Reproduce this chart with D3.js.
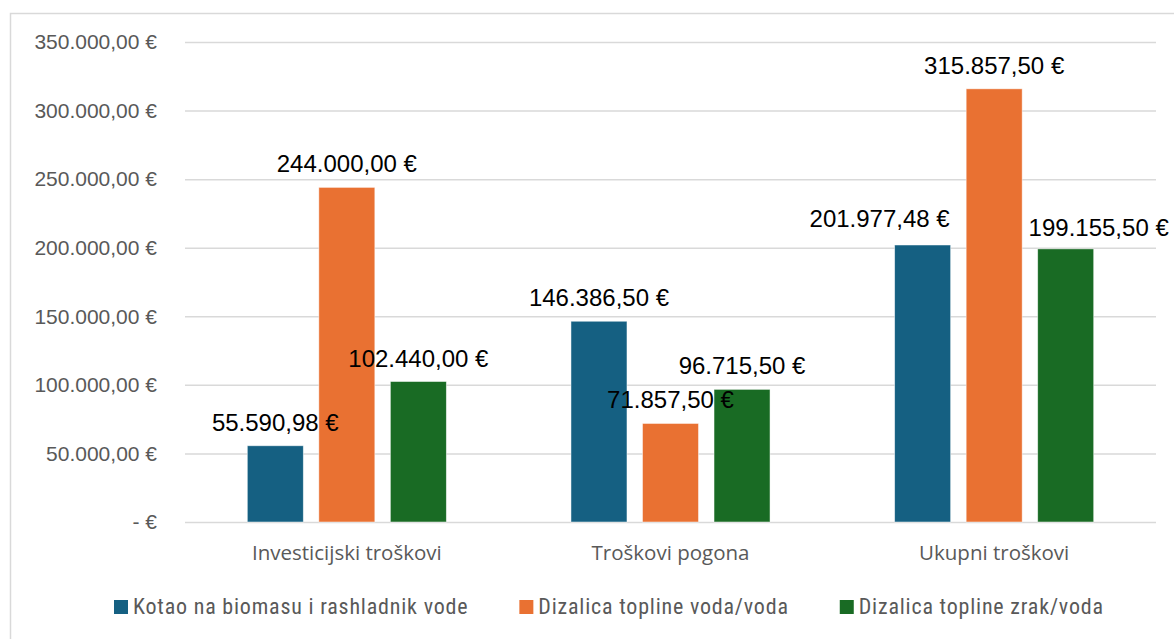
<!DOCTYPE HTML>
<html>

<head>
  <meta charset="utf-8">
  <title>Troškovi</title>
  <script src="https://d3js.org/d3.v7.min.js"></script>
  <style>
    body { margin: 0; background: #fff; }
  </style>
</head>

<body>

  <script>
    const categories = ['Investicijski troškovi', 'Troškovi pogona', 'Ukupni troškovi'];
    const series = ['Kotao na biomasu i rashladnik vode', 'Dizalica topline voda/voda', 'Dizalica topline zrak/voda'];
    const kotao = [55590.98, 146386.50, 201977.48];
    const vodaVoda = [244000.00, 71857.50, 315857.50];
    const zrakVoda = [102440.00, 96715.50, 199155.50];
    const yTicks = [0, 50000, 100000, 150000, 200000, 250000, 300000, 350000];

    const colors = ['#156082', '#E97132', '#196B24'];
    // Excel ručno pomaknute oznake (samo u zadnjoj grupi)
    const labelNudge = { '2-0': [-43, -3], '2-2': [33, 2] };

    const values = [kotao, vodaVoda, zrakVoda];
    const rows = [];
    categories.forEach((c, ci) => {
      series.forEach((s, si) => rows.push({ c, ci, s, si, v: values[si][ci] }));
    });

    const W = 1174, H = 639;
    const svg = d3.select('body').append('svg')
      .attr('width', W)
      .attr('height', H);

    // okvir grafikona
    svg.append('rect')
      .attr('x', 10.5).attr('y', 13.5)
      .attr('width', W).attr('height', H)
      .attr('fill', 'none')
      .attr('stroke', '#d9d9d9')
      .attr('stroke-width', 1.5);

    const plotL = 185, plotR = 1156, plotT = 42, plotB = 522;

    const y = d3.scaleLinear().domain([0, 350000]).range([plotB, plotT]);
    const x0 = d3.scaleBand().domain(categories).range([plotL, plotR])
      .paddingInner(0.385).paddingOuter(0.1925);
    const x1 = d3.scaleBand().domain(series).range([0, x0.bandwidth()])
      .paddingInner(0.217);

    const fmt = v => {
      if (v === 0) return '- €';
      const parts = v.toFixed(2).split('.');
      return parts[0].replace(/\B(?=(\d{3})+(?!\d))/g, '.') + ',' + parts[1] + ' €';
    };

    // mreža i oznake osi y
    const yAxis = svg.append('g')
      .attr('transform', `translate(${plotL},0)`)
      .call(d3.axisLeft(y).tickValues(yTicks).tickSize(-(plotR - plotL)).tickFormat(fmt).tickPadding(28));
    yAxis.select('.domain').remove();
    yAxis.selectAll('.tick line')
      .attr('stroke', '#d9d9d9')
      .attr('stroke-width', 1.5);
    yAxis.selectAll('.tick text')
      .attr('fill', '#595959')
      .style('font-family', '"Liberation Sans", Arial, sans-serif')
      .style('font-size', '21px');

    // stupci
    svg.append('g').selectAll('rect')
      .data(rows)
      .enter()
      .append('rect')
      .attr('x', d => x0(d.c) + x1(d.s))
      .attr('y', d => y(d.v))
      .attr('width', x1.bandwidth())
      .attr('height', d => y(0) - y(d.v))
      .attr('fill', d => colors[d.si])
      .attr('stroke', '#fff')
      .attr('stroke-opacity', 0.6)
      .attr('stroke-width', 0.8);

    // oznake vrijednosti
    svg.append('g').selectAll('text')
      .data(rows)
      .enter()
      .append('text')
      .attr('x', d => x0(d.c) + x1(d.s) + x1.bandwidth() / 2 + (labelNudge[d.ci + '-' + d.si] || [0, 0])[0])
      .attr('y', d => y(d.v) - 15 + (labelNudge[d.ci + '-' + d.si] || [0, 0])[1])
      .attr('text-anchor', 'middle')
      .attr('fill', '#000')
      .style('font-family', '"Liberation Sans", Arial, sans-serif')
      .style('font-size', '24px')
      .text(d => fmt(d.v));

    // oznake kategorija
    svg.append('g').selectAll('text')
      .data(categories)
      .enter()
      .append('text')
      .attr('x', d => x0(d) + x0.bandwidth() / 2)
      .attr('y', 560)
      .attr('text-anchor', 'middle')
      .attr('fill', '#595959')
      .style('font-family', '"Open Sans", sans-serif')
      .style('font-size', '20.5px')
      .text(d => d);

    // legenda
    const legend = svg.append('g');
    let lx = 114;
    series.forEach((s, i) => {
      legend.append('rect')
        .attr('x', lx).attr('y', 600)
        .attr('width', 14).attr('height', 14)
        .attr('fill', colors[i]);
      const t = legend.append('text')
        .attr('x', lx + 19)
        .attr('y', 614)
        .attr('fill', '#595959')
        .style('font-family', '"Liberation Sans Narrow", "Roboto Condensed", sans-serif')
        .style('font-size', '22px')
        .style('letter-spacing', '0.8px')
        .text(s);
      lx += 19 + t.node().getComputedTextLength() + 51;
    });
  </script>

</body>

</html>
